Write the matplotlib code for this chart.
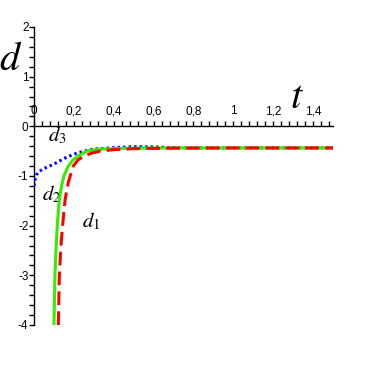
import matplotlib
matplotlib.use("Agg")
import matplotlib.pyplot as plt
from matplotlib.ticker import FixedLocator, FixedFormatter, MultipleLocator

# curva d1 (roja, discontinua)
t_d1 = [0.122, 0.127, 0.135, 0.144, 0.156, 0.172, 0.185, 0.197, 0.22, 0.248,
        0.29, 0.33, 0.4, 0.5, 0.7, 1.0, 1.5]
d_d1 = [-4.0, -3.0, -2.4, -1.97, -1.47, -1.13, -0.95, -0.8, -0.68, -0.6,
        -0.54, -0.5, -0.47, -0.45, -0.44, -0.435, -0.435]

# curva d2 (verde, continua)
t_d2 = [0.100, 0.105, 0.110, 0.117, 0.127, 0.139, 0.150, 0.172, 0.195, 0.22,
        0.265, 0.33, 0.42, 0.55, 0.7, 1.0, 1.5]
d_d2 = [-4.0, -3.0, -2.5, -1.97, -1.47, -1.19, -1.0, -0.8, -0.68, -0.6,
        -0.50, -0.46, -0.445, -0.438, -0.435, -0.435, -0.435]

# curva d3 (azul, punteada)
t_d3 = [0.0, 0.004, 0.012, 0.025, 0.05, 0.1, 0.15, 0.2, 0.25, 0.3, 0.4,
        0.5, 0.6, 0.7, 0.8, 1.0, 1.5]
d_d3 = [-1.2, -1.1, -0.98, -0.91, -0.85, -0.76, -0.65, -0.56, -0.5, -0.46,
        -0.43, -0.41, -0.415, -0.43, -0.435, -0.435, -0.435]

x_ticks = [0, 0.2, 0.4, 0.6, 0.8, 1.0, 1.2, 1.4]
x_labels = ["0", "0,2", "0,4", "0,6", "0,8", "1", "1,2", "1,4"]
y_ticks = [-4, -3, -2, -1, 0, 1, 2]
y_labels = ["-4", "-3", "-2", "-1", "0", "1", "2"]

plt.rcParams["mathtext.fontset"] = "stix"

fig = plt.figure(figsize=(3.73, 3.73), dpi=100)
ax = fig.add_axes([0.0912, 0.1287, 0.8016, 0.799])
ax.set_xlim(0, 1.5)
ax.set_ylim(-4, 2)

ax.plot(t_d3, d_d3, color="#0000ff", lw=2.2, ls=(0, (0.8, 1.0)), zorder=3)
ax.plot(t_d2, d_d2, color="#33ee00", lw=2.2, zorder=4)
ax.plot(t_d1, d_d1, color="#ff0000", lw=2.2, ls=(0, (4.5, 2.0)), zorder=5)

# --- ejes estilo Maple ---
ax.spines["right"].set_visible(False)
ax.spines["bottom"].set_visible(False)
ax.spines["top"].set_position(("data", 0))
ax.spines["left"].set_position(("data", 0))
for s in ("top", "left"):
    ax.spines[s].set_linewidth(1.0)

ax.xaxis.tick_top()
ax.xaxis.set_major_locator(FixedLocator(x_ticks))
ax.xaxis.set_major_formatter(FixedFormatter(x_labels))
ax.xaxis.set_minor_locator(MultipleLocator(0.04))
ax.yaxis.set_major_locator(FixedLocator(y_ticks))
ax.yaxis.set_major_formatter(FixedFormatter(y_labels))
ax.yaxis.set_minor_locator(MultipleLocator(0.2))

ax.tick_params(axis="both", which="both", direction="out", width=1.0,
               labelsize=8.5, colors="black")
ax.tick_params(axis="x", which="both", length=3.5, pad=3)
ax.tick_params(axis="y", which="both", length=3.5, pad=0.5)
for lab in ax.get_xticklabels() + ax.get_yticklabels():
    lab.set_fontfamily("Liberation Sans")

# etiquetas
ax.text(-0.118, 1.35, "$d$", fontsize=29, ha="center", va="center", clip_on=False)
ax.text(1.317, 0.6, "$t$", fontsize=29, ha="center", va="center", clip_on=False)
ax.text(0.116, -0.18, "$d_3$", fontsize=15, ha="center", va="center")
ax.text(0.09, -1.37, "$d_2$", fontsize=15, ha="center", va="center")
ax.text(0.286, -1.91, "$d_1$", fontsize=15, ha="center", va="center")

fig.savefig("out.png", dpi=100)
